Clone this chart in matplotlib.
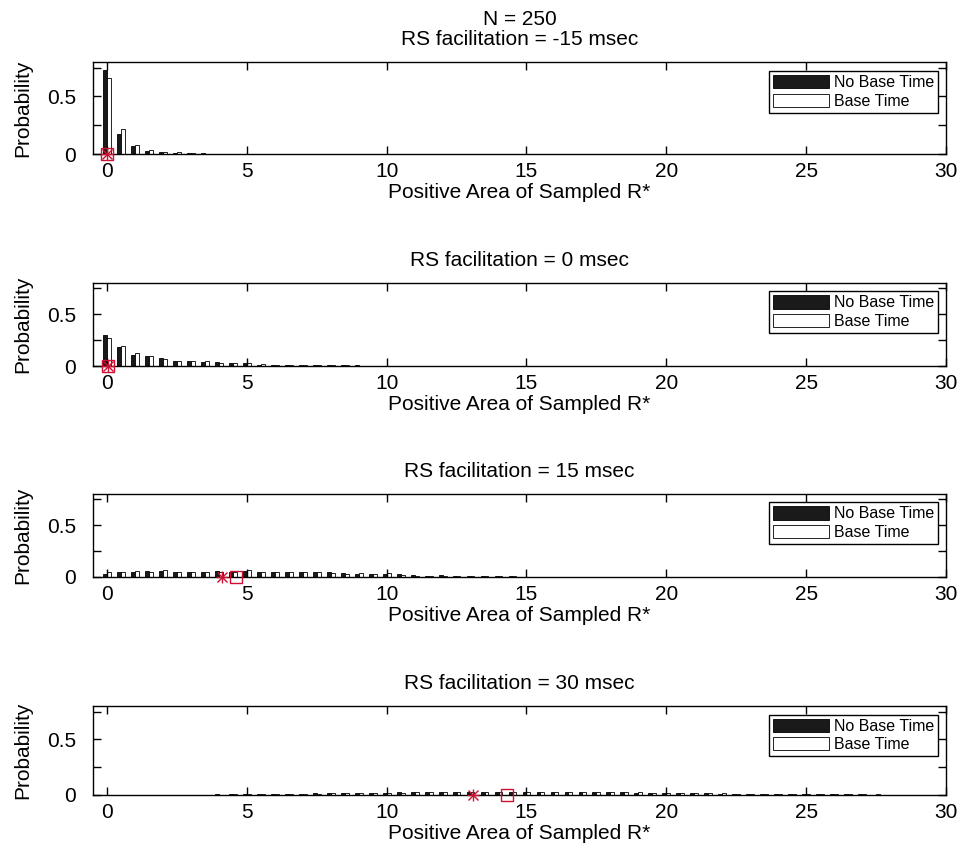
import numpy as np
import matplotlib
matplotlib.use("Agg")
import matplotlib.pyplot as plt

plt.rcParams['font.family'] = ['Liberation Sans', 'DejaVu Sans']

# bin centres 0, 0.5, ..., 30
bins = np.arange(0, 30.01, 0.5)

def pad(vals):
    v = list(vals) + [0.0] * (len(bins) - len(vals))
    return np.array(v)

# Panel 1: RS facilitation = -15 msec
nobase_m15 = pad([0.733, 0.17, 0.073, 0.029, 0.015, 0.006, 0.012, 0.006, 0.003, 0.003])
base_m15 = pad([0.663, 0.22, 0.076, 0.032, 0.018, 0.020, 0.006, 0.004, 0.003, 0.002])

# Panel 2: RS facilitation = 0 msec
nobase_0 = pad([0.296, 0.18, 0.11, 0.094, 0.075, 0.053, 0.047, 0.041, 0.035, 0.025,
                0.025, 0.013, 0.013, 0.013, 0.013, 0.006, 0.006, 0.005, 0.005, 0.004,
                0.004, 0.003, 0.003, 0.003, 0.002])
base_0 = pad([0.274, 0.19, 0.13, 0.097, 0.066, 0.053, 0.044, 0.047, 0.028, 0.028,
              0.025, 0.019, 0.013, 0.009, 0.006, 0.006, 0.005, 0.005, 0.004, 0.004,
              0.003, 0.003, 0.003, 0.002, 0.002])

# Panel 3: RS facilitation = 15 msec
nobase_15 = pad([0.032, 0.045, 0.045, 0.058, 0.058, 0.051, 0.051, 0.051, 0.058, 0.051,
                 0.058, 0.051, 0.051, 0.051, 0.051, 0.045, 0.045, 0.038, 0.032, 0.026,
                 0.032, 0.026, 0.019, 0.013, 0.019, 0.013, 0.010, 0.010, 0.006, 0.006,
                 0.004, 0.003, 0.002, 0.001])
base_15 = pad([0.045, 0.045, 0.061, 0.045, 0.064, 0.051, 0.051, 0.045, 0.045, 0.051,
               0.064, 0.051, 0.045, 0.045, 0.045, 0.045, 0.038, 0.032, 0.038, 0.032,
               0.038, 0.019, 0.013, 0.013, 0.013, 0.013, 0.010, 0.010, 0.010, 0.006,
               0.004, 0.003, 0.002, 0.001])

# Panel 4: RS facilitation = 30 msec
nobase_30 = pad([0.002, 0.002, 0.002, 0.003, 0.003, 0.003, 0.004, 0.004, 0.005, 0.006,
                 0.007, 0.009, 0.010, 0.011, 0.013, 0.014, 0.016, 0.017, 0.019, 0.020,
                 0.022, 0.023, 0.025, 0.026, 0.028, 0.027, 0.029, 0.030, 0.031, 0.029,
                 0.029, 0.028, 0.028, 0.029, 0.026, 0.025, 0.027, 0.023, 0.022, 0.021,
                 0.019, 0.017, 0.016, 0.014, 0.013, 0.012, 0.011, 0.010, 0.009, 0.008,
                 0.007, 0.006, 0.006, 0.005, 0.005, 0.004, 0.004, 0.003, 0.003, 0.003,
                 0.002])
base_30 = pad([0.002, 0.002, 0.002, 0.002, 0.003, 0.003, 0.003, 0.004, 0.004, 0.005,
               0.006, 0.007, 0.009, 0.010, 0.011, 0.013, 0.014, 0.016, 0.018, 0.019,
               0.021, 0.022, 0.024, 0.025, 0.026, 0.028, 0.027, 0.029, 0.030, 0.031,
               0.030, 0.029, 0.029, 0.028, 0.028, 0.026, 0.025, 0.024, 0.023, 0.021,
               0.020, 0.018, 0.017, 0.015, 0.014, 0.013, 0.012, 0.011, 0.010, 0.009,
               0.008, 0.007, 0.006, 0.006, 0.005, 0.005, 0.004, 0.004, 0.003, 0.003,
               0.003])

# medians (red markers)
median_nobase = [0.0, 0.03, 4.1, 13.1]
median_base = [0.0, 0.05, 4.6, 14.3]

titles = ["N = 250\nRS facilitation = -15 msec", "RS facilitation = 0 msec",
          "RS facilitation = 15 msec", "RS facilitation = 30 msec"]
nobase_sets = [nobase_m15, nobase_0, nobase_15, nobase_30]
base_sets = [base_m15, base_0, base_15, base_30]

xticks = [0, 5, 10, 15, 20, 25, 30]
yticks = [0, 0.25, 0.5, 0.75]
yticklabels = ["0", "", "0.5", ""]

W, H = 961, 864
fig = plt.figure(figsize=(W / 100, H / 100), dpi=100)

# axes boxes in pixels: (top, bottom)
boxes = [(62, 154), (283, 366), (494, 577), (706, 795)]
left_px, right_px = 93, 946

red = '#cc1133'
bw = 0.14
FS = 15
for i in range(4):
    top, bot = boxes[i]
    ax = fig.add_axes([left_px / W, 1 - bot / H, (right_px - left_px) / W, (bot - top) / H])
    ax.bar(bins - bw / 2, nobase_sets[i], width=bw, color='#1a1a1a', edgecolor='black',
           linewidth=0.6, label='No Base Time')
    ax.bar(bins + bw / 2, base_sets[i], width=bw, color='white', edgecolor='black',
           linewidth=0.6, label='Base Time')
    ax.plot([median_nobase[i]], [0], marker='+', color=red, markersize=9,
            linestyle='none', clip_on=False, zorder=5, markeredgewidth=1.0)
    ax.plot([median_nobase[i]], [0], marker='x', color=red, markersize=7,
            linestyle='none', clip_on=False, zorder=5, markeredgewidth=1.0)
    ax.plot([median_base[i]], [0], marker='s', color=red, markersize=8,
            markerfacecolor='none', markeredgewidth=1.0,
            linestyle='none', clip_on=False, zorder=5)
    ax.set_xlim(-0.5, 30)
    ax.set_ylim(0, 0.8)
    ax.set_xticks(xticks)
    ax.set_xticklabels([str(t) for t in xticks])
    ax.set_yticks(yticks)
    ax.set_yticklabels(yticklabels)
    ax.tick_params(direction='in', top=True, right=True, length=6, width=1,
                   labelsize=FS, colors='black')
    ax.tick_params(axis='x', pad=6)
    ax.tick_params(axis='y', pad=12)
    for s in ax.spines.values():
        s.set_linewidth(1.0)
    ax.set_xlabel("Positive Area of Sampled R*", fontsize=FS, labelpad=1)
    ax.set_ylabel("Probability", fontsize=FS, labelpad=11)
    ax.set_title(titles[i], fontsize=FS, pad=12, linespacing=1.1)
    leg = ax.legend(loc='upper right', bbox_to_anchor=(0.991, 0.90), fontsize=11.5,
                    frameon=True, fancybox=False, framealpha=1, edgecolor='black',
                    handlelength=3.5, handleheight=0.9, handletextpad=0.3,
                    borderpad=0.25, labelspacing=0.2, borderaxespad=0)
    leg.get_frame().set_linewidth(1.0)

fig.savefig("out.png", dpi=100)
